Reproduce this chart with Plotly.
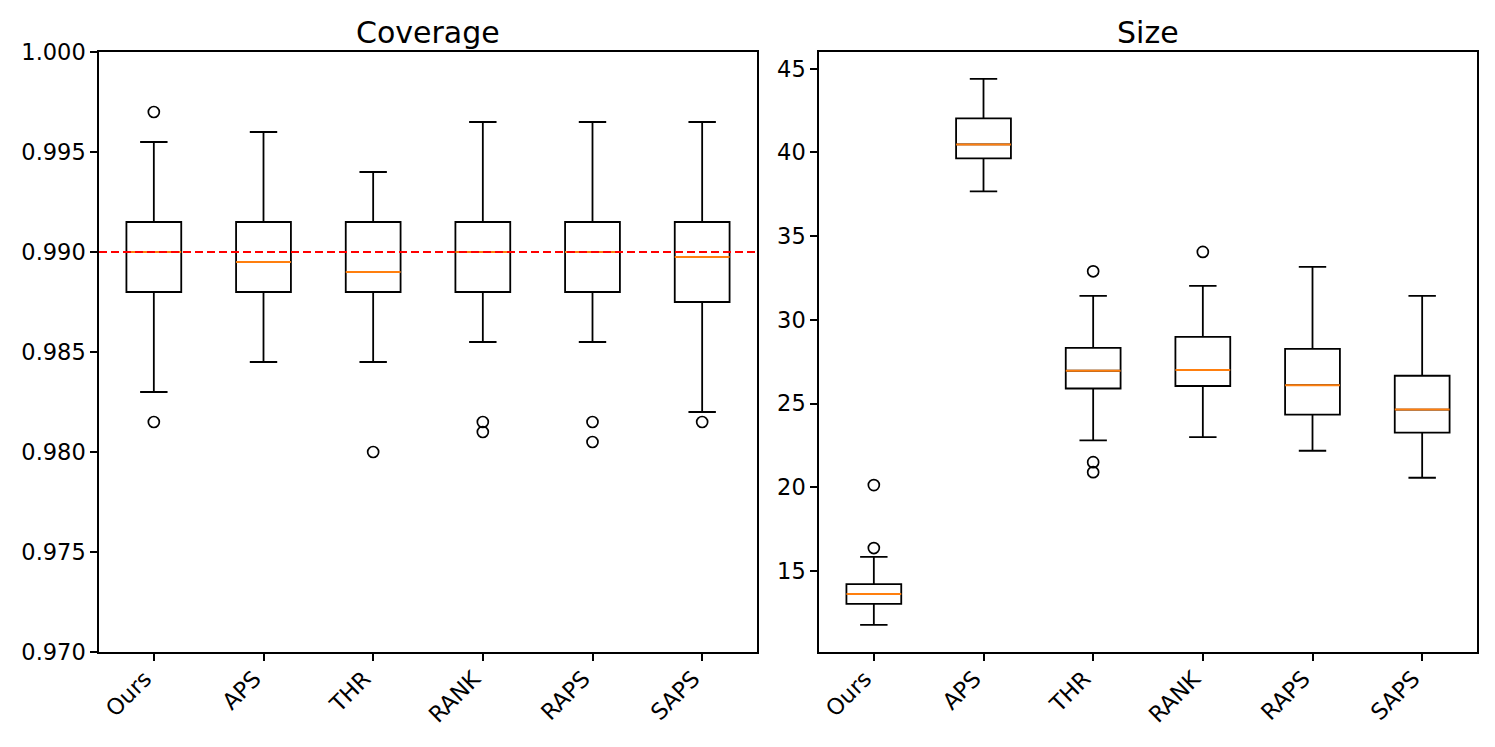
import plotly.graph_objects as go
from plotly.subplots import make_subplots

methods = ["Ours", "APS", "THR", "RANK", "RAPS", "SAPS"]

# Coverage stats
cov_lower = [0.983, 0.9845, 0.9845, 0.9855, 0.9855, 0.982]
cov_q1 = [0.988, 0.988, 0.988, 0.988, 0.988, 0.9875]
cov_median = [0.990, 0.9895, 0.989, 0.990, 0.990, 0.98975]
cov_q3 = [0.9915, 0.9915, 0.9915, 0.9915, 0.9915, 0.9915]
cov_upper = [0.9955, 0.996, 0.994, 0.9965, 0.9965, 0.9965]
cov_outliers = [[0.997, 0.9815], [], [0.980], [0.9815, 0.981], [0.9815, 0.9805], [0.9815]]
target_coverage = 0.990

# Size stats
size_lower = [11.78, 37.67, 22.8, 23.0, 22.18, 20.57]
size_q1 = [13.03, 39.64, 25.9, 26.05, 24.34, 23.26]
size_median = [13.63, 40.48, 26.96, 27.0, 26.1, 24.64]
size_q3 = [14.22, 42.03, 28.33, 28.98, 28.27, 26.66]
size_upper = [15.84, 44.4, 31.43, 32.03, 33.16, 31.43]
size_outliers = [[16.37, 20.13], [], [32.9, 21.5, 20.9], [34.06], [], []]

positions = list(range(1, len(methods) + 1))
BOX_W = 0.5

fig = make_subplots(rows=1, cols=2, subplot_titles=("Coverage", "Size"),
                    horizontal_spacing=0.045)

def add_boxes(col, lo, q1, med, q3, up, outs):
    fig.add_trace(go.Box(
        x=positions, q1=q1, median=med, q3=q3, lowerfence=lo, upperfence=up,
        width=BOX_W, whiskerwidth=0.5, fillcolor="rgba(0,0,0,0)",
        line=dict(color="black", width=1.8), boxpoints=False,
        showlegend=False, hoverinfo="skip"), row=1, col=col)
    for p, m in zip(positions, med):
        fig.add_trace(go.Scatter(
            x=[p - BOX_W / 2, p + BOX_W / 2], y=[m, m], mode="lines",
            line=dict(color="#ff7f0e", width=2), showlegend=False,
            hoverinfo="skip"), row=1, col=col)
    ox, oy = [], []
    for p, vals in zip(positions, outs):
        for v in vals:
            ox.append(p)
            oy.append(v)
    fig.add_trace(go.Scatter(
        x=ox, y=oy, mode="markers",
        marker=dict(symbol="circle-open", color="black", size=11,
                    line=dict(width=1.7, color="black")),
        showlegend=False, hoverinfo="skip"), row=1, col=col)

add_boxes(1, cov_lower, cov_q1, cov_median, cov_q3, cov_upper, cov_outliers)
add_boxes(2, size_lower, size_q1, size_median, size_q3, size_upper, size_outliers)

fig.add_shape(type="line", xref="x domain", yref="y", x0=0, x1=1,
              y0=target_coverage, y1=target_coverage,
              line=dict(color="red", width=2.2, dash="8px,4px"))

axis_common = dict(showline=True, linecolor="black", linewidth=1.5, mirror=True,
                   showgrid=False, zeroline=False, ticks="outside", ticklen=7,
                   tickcolor="black", tickwidth=1.5,
                   tickfont=dict(size=22.5, color="black"))

for c in (1, 2):
    fig.update_xaxes(tickvals=positions, ticktext=methods, tickangle=-45,
                     range=[0.5, 6.5], ticklabelshift=-9, ticklabelstandoff=-4,
                     row=1, col=c, **axis_common)

fig.update_yaxes(range=[0.970, 1.000], tickvals=[0.970, 0.975, 0.980, 0.985, 0.990, 0.995, 1.000],
                 tickformat=".3f", row=1, col=1, **axis_common)
fig.update_yaxes(range=[10.16, 46.0], tickvals=[15, 20, 25, 30, 35, 40, 45],
                 row=1, col=2, **axis_common)

fig.update_annotations(font=dict(size=30, color="black"))

fig.update_layout(
    width=1487, height=739,
    margin=dict(l=91, r=18, t=44, b=95),
    plot_bgcolor="white", paper_bgcolor="white",
    font=dict(family="DejaVu Sans", color="black"),
)
fig.layout.xaxis.domain = [0, 0.4775]
fig.layout.xaxis2.domain = [0.5225, 1]
for a in fig.layout.annotations:
    a.yshift = 0

fig.write_html("out.html")
